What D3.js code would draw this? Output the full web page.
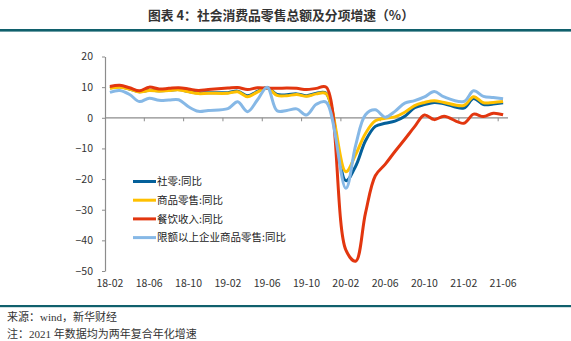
<!DOCTYPE html>
<html><head><meta charset="utf-8">
<script src="https://cdn.jsdelivr.net/npm/d3@7"></script>
<style>body{margin:0;background:#fff}</style>
</head><body><svg id="c" width="571" height="341"></svg>
<script>
const months = ["18-02","18-03","18-04","18-05","18-06","18-07","18-08","18-09","18-10","18-11","18-12",
  "19-01","19-02","19-03","19-04","19-05","19-06","19-07","19-08","19-09","19-10","19-11","19-12",
  "20-01","20-02","20-03","20-04","20-05","20-06","20-07","20-08","20-09","20-10","20-11","20-12",
  "21-01","21-02","21-03","21-04","21-05","21-06"];
// 社零:同比
const retailTotal = [9.7,10.1,9.4,8.5,9.0,8.8,9.0,9.2,8.6,8.1,8.2,
  null,8.2,8.7,7.2,8.6,9.8,7.6,7.5,7.8,7.2,8.0,8.0,
  null,-20.5,-15.8,-7.5,-2.8,-1.8,-1.1,0.5,3.3,4.3,5.0,4.6,
  null,3.2,6.3,4.3,4.5,4.9];
// 商品零售:同比
const goodsRetail = [9.6,10.0,9.4,8.4,8.9,8.7,8.9,9.1,8.5,7.9,8.0,
  null,8.0,8.5,6.9,8.4,9.8,7.3,7.2,7.6,7.0,7.8,7.9,
  null,-17.6,-12.0,-5.1,-1.0,-0.2,0.3,1.8,4.0,5.0,5.6,5.0,
  null,4.0,6.9,4.9,5.0,5.3];
// 餐饮收入:同比
const catering = [10.2,10.6,9.8,8.8,10.0,9.4,9.6,9.8,9.4,8.9,9.2,
  null,9.7,9.9,9.2,9.8,9.7,9.6,9.7,9.6,9.2,9.6,10.0,
  null,-43.1,-46.8,-31.1,-18.9,-15.2,-11.0,-7.0,-2.9,0.9,-0.6,0.5,
  null,-1.8,1.2,0.4,1.5,1.0];
// 限额以上企业商品零售:同比
const aboveQuota = [8.3,8.9,7.6,5.3,6.4,5.7,5.8,5.9,3.6,2.1,2.4,
  null,3.0,5.2,2.0,5.8,10.0,2.3,2.4,2.9,0.9,4.4,5.1,
  null,-23.0,-9.0,1.0,2.6,0.2,2.1,4.8,5.6,6.8,8.6,6.8,
  null,5.3,8.8,7.0,6.6,6.2];

const yTicks = [-50,-40,-30,-20,-10,0,10,20];
const xTickLabels = ["18-02","18-06","18-10","19-02","19-06","19-10","20-02","20-06","20-10","21-02","21-06"];
const seriesNames = ["社零:同比","商品零售:同比","餐饮收入:同比","限额以上企业商品零售:同比"];
const seriesData = [retailTotal, goodsRetail, catering, aboveQuota];
const seriesColors = ["#04609a","#ffc000","#e2360f","#86b8e6"];
const titleText = "图表 4：社会消费品零售总额及分项增速（%）";
const sourceText = "来源：wind，新华财经";
const noteText = "注：2021 年数据均为两年复合年化增速";

const svg = d3.select("#c");
const font = "'Noto Sans CJK SC','Noto Sans',sans-serif";
const serifFont = "'Liberation Serif','Noto Sans CJK SC',serif";
svg.append("rect").attr("width",571).attr("height",341).attr("fill","#fff");

// title
svg.append("text").attr("x",281).attr("y",20).attr("text-anchor","middle")
  .attr("font-family",font).attr("font-size",12.8).attr("font-weight","bold").attr("fill","#333")
  .text(titleText);
svg.append("rect").attr("x",0).attr("y",29).attr("width",571).attr("height",2.6).attr("fill","#10606c");
svg.append("rect").attr("x",0).attr("y",305).attr("width",571).attr("height",2.2).attr("fill","#10606c");

// footer
svg.append("text").attr("x",7).attr("y",321).attr("font-family",serifFont).attr("font-size",11).attr("fill","#333").text(sourceText);
svg.append("text").attr("x",7).attr("y",338).attr("font-family",serifFont).attr("font-size",11).attr("fill","#333").text(noteText);

const x = d3.scaleBand().domain(months).range([105,508]);
const bw = x.bandwidth();
const y = d3.scaleLinear().domain([-50,20]).range([271,56.5]);
const axisColor = "#8c8c8c";

// y axis
const ya = svg.append("g").attr("transform","translate(105,0)")
  .call(d3.axisLeft(y).tickValues(yTicks).tickSize(3).tickPadding(9).tickSizeOuter(0));
ya.select(".domain").attr("stroke",axisColor).attr("stroke-width",1.2);
ya.selectAll(".tick line").attr("stroke",axisColor);
ya.selectAll("text").attr("font-family",font).attr("font-size",10.5).attr("fill","#333");

// x axis (at zero)
svg.append("line").attr("x1",105).attr("x2",508).attr("y1",y(0)).attr("y2",y(0))
  .attr("stroke",axisColor).attr("stroke-width",1.2);
svg.selectAll(".xt").data(months.filter((m,i)=>i>0 && i%4===0)).enter().append("line")
  .attr("x1",d=>x(d)).attr("x2",d=>x(d)).attr("y1",y(0)).attr("y2",y(0)+3.5)
  .attr("stroke",axisColor);
svg.selectAll(".xl").data(xTickLabels).enter().append("text")
  .attr("x",d=>x(d)+bw/2).attr("y",286.5).attr("text-anchor","middle")
  .attr("font-family",font).attr("font-size",10.5).attr("fill","#333").text(d=>d);

// lines
const line = d3.line().x(d=>x(d.m)+bw/2).y(d=>y(d.v)).curve(d3.curveCatmullRom.alpha(0.5));
seriesData.forEach((arr,k)=>{
  const pts = months.map((m,i)=>({m,v:arr[i]})).filter(d=>d.v!==null);
  svg.append("path").datum(pts).attr("d",line).attr("fill","none")
    .attr("stroke",seriesColors[k]).attr("stroke-width",3).attr("stroke-linejoin","round");
});

// legend
const lg = svg.append("g");
seriesNames.forEach((n,k)=>{
  const yy = 181.5 + k*18.7;
  lg.append("line").attr("x1",133).attr("x2",156).attr("y1",yy).attr("y2",yy)
    .attr("stroke",seriesColors[k]).attr("stroke-width",3);
  lg.append("text").attr("x",157).attr("y",yy+3.8).attr("font-family",font).attr("font-size",10.5)
    .attr("fill","#222").text(n);
});
</script>
</body></html>
